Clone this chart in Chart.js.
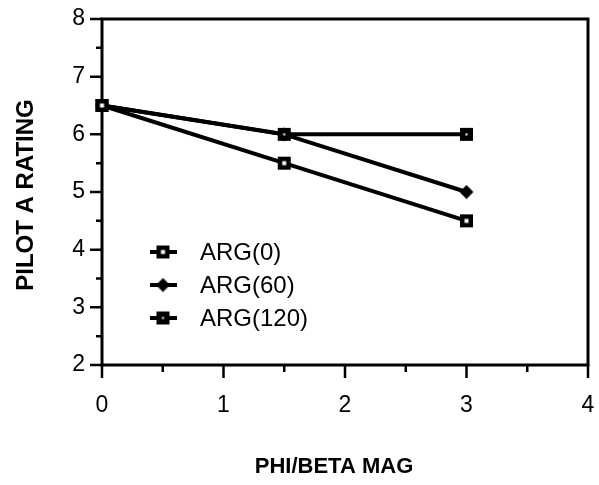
<!DOCTYPE html>
<html>
<head>
<meta charset="utf-8">
<script src="https://cdn.jsdelivr.net/npm/chart.js@4/dist/chart.umd.min.js"></script>
<style>
html,body{margin:0;padding:0;background:#fff;}
#c{display:block;}
</style>
</head>
<body>
<canvas id="c" width="599" height="485"></canvas>
<script>
// ---- data ----
const xValues = [0, 1.5, 3];
const arg0 = [6.5, 5.5, 4.5];
const arg60 = [6.5, 6, 5];
const arg120 = [6.5, 6, 6];
const seriesNames = ['ARG(0)', 'ARG(60)', 'ARG(120)'];
const xTickValues = [0, 1, 2, 3, 4];
const yTickValues = [2, 3, 4, 5, 6, 7, 8];
const xAxisTitle = 'PHI/BETA MAG';
const yAxisTitle = 'PILOT A RATING';

// ---- marker images ----
function makeMarker(kind) {
  const c = document.createElement('canvas');
  c.width = 15; c.height = 15;
  const g = c.getContext('2d');
  g.fillStyle = '#000';
  if (kind === 'diamond') {
    g.beginPath();
    g.moveTo(7.5, 0.5); g.lineTo(14.5, 7.5); g.lineTo(7.5, 14.5); g.lineTo(0.5, 7.5);
    g.closePath(); g.fill();
  } else {
    g.fillRect(1, 1, 13, 13);
    g.fillStyle = '#fff';
    if (kind === 'open') g.fillRect(5.5, 5.5, 4, 4);
    else g.fillRect(6.5, 6.5, 2, 2);
  }
  return c;
}
const markers = [makeMarker('open'), makeMarker('diamond'), makeMarker('dot')];
const seriesValues = [arg0, arg60, arg120];
const drawOrder = [0, 2, 1];

const datasets = seriesValues.map((vals, i) => ({
  label: seriesNames[i],
  data: xValues.map((x, j) => ({x: x, y: vals[j]})),
  borderColor: '#000',
  backgroundColor: '#000',
  borderWidth: 4,
  pointStyle: markers[i],
  pointRadius: 7,
  clip: false,
  order: drawOrder[i],
  tension: 0
}));

const AREA = {left: 102, right: 592, top: 19, bottom: 365};
const FONT = '"Liberation Sans", Arial, sans-serif';

const decor = {
  id: 'decor',
  beforeDatasetsDraw(chart) {
    const ctx = chart.ctx;
    const xs = chart.scales.x, ys = chart.scales.y;
    const a = chart.chartArea;
    ctx.save();
    ctx.strokeStyle = '#000';
    ctx.lineWidth = 3;
    ctx.strokeRect(a.left, a.top, a.right - a.left, a.bottom - a.top);
    ctx.lineWidth = 2.5;
    ctx.beginPath();
    xTickValues.forEach(v => {
      const px = xs.getPixelForValue(v);
      ctx.moveTo(px, a.bottom); ctx.lineTo(px, a.bottom + 13);
    });
    for (let v = 0.5; v < 4; v += 1) {
      const px = xs.getPixelForValue(v);
      ctx.moveTo(px, a.bottom); ctx.lineTo(px, a.bottom + 7);
    }
    yTickValues.forEach(v => {
      const py = ys.getPixelForValue(v);
      ctx.moveTo(a.left, py); ctx.lineTo(a.left - 12, py);
    });
    for (let v = 2.5; v < 8; v += 1) {
      const py = ys.getPixelForValue(v);
      ctx.moveTo(a.left, py); ctx.lineTo(a.left - 6, py);
    }
    ctx.stroke();
    ctx.restore();
  },
  afterDraw(chart) {
    const ctx = chart.ctx;
    ctx.save();
    ctx.fillStyle = '#000';
    ctx.textAlign = 'center';
    ctx.textBaseline = 'middle';
    ctx.font = 'bold 22px ' + FONT;
    ctx.fillText(xAxisTitle, 334, 467);
    ctx.font = 'bold 24px ' + FONT;
    ctx.translate(26, 195);
    ctx.rotate(-Math.PI / 2);
    ctx.fillText(yAxisTitle, 0, 0);
    ctx.restore();
    // legend
    ctx.save();
    const rows = [252, 285, 318];
    ctx.font = '24px ' + FONT;
    ctx.textAlign = 'left';
    ctx.textBaseline = 'middle';
    seriesNames.forEach((name, i) => {
      const y = rows[i];
      ctx.strokeStyle = '#000';
      ctx.lineWidth = 4;
      ctx.beginPath(); ctx.moveTo(150, y); ctx.lineTo(177, y); ctx.stroke();
      const m = markers[i];
      ctx.drawImage(m, 163 - m.width / 2, y - m.height / 2);
      ctx.fillStyle = '#000';
      ctx.fillText(name, 200, y + 1);
    });
    ctx.restore();
  }
};

new Chart(document.getElementById('c'), {
  type: 'line',
  data: {datasets: datasets},
  plugins: [decor],
  options: {
    responsive: false,
    devicePixelRatio: 1,
    animation: false,
    layout: {padding: {top: AREA.top, right: 599 - AREA.right, left: 0, bottom: 0}},
    plugins: {legend: {display: false}, tooltip: {enabled: false}},
    scales: {
      x: {
        type: 'linear',
        min: 0, max: 4,
        afterBuildTicks(s) { s.ticks = xTickValues.map(v => ({value: v})); },
        afterFit(s) { s.height = 485 - AREA.bottom; s.paddingLeft = 0; s.paddingRight = 0; },
        grid: {display: true, drawOnChartArea: false, drawTicks: false, tickLength: 13},
        border: {display: false},
        ticks: {color: '#000', padding: 27, maxRotation: 0, autoSkip: false,
          font: {family: FONT, size: 23}}
      },
      y: {
        type: 'linear',
        min: 2, max: 8,
        afterBuildTicks(s) { s.ticks = yTickValues.map(v => ({value: v})); },
        afterFit(s) { s.width = AREA.left; s.paddingTop = 0; s.paddingBottom = 0; },
        grid: {display: true, drawOnChartArea: false, drawTicks: false, tickLength: 12},
        border: {display: false},
        ticks: {color: '#000', padding: 17, autoSkip: false,
          font: {family: FONT, size: 23}}
      }
    }
  }
});
</script>
</body>
</html>
